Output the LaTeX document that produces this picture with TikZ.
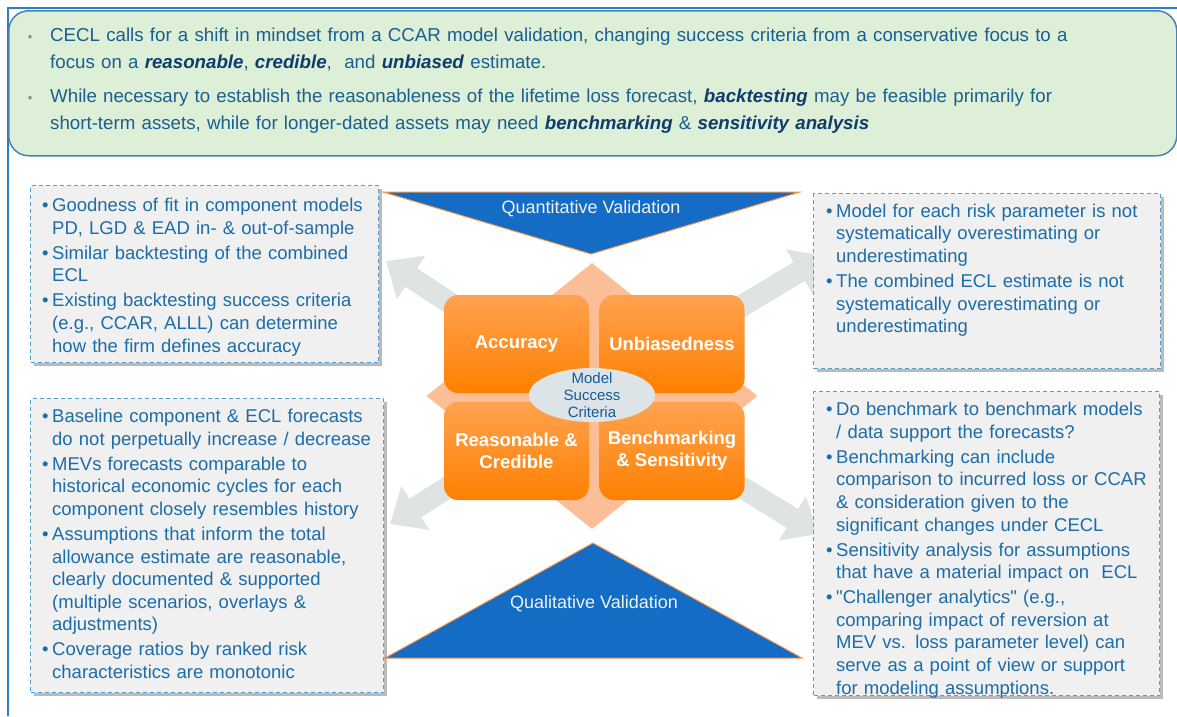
\documentclass[tikz,border=0pt]{standalone}
\usepackage{fontspec}
\setmainfont{Liberation Sans}
\usetikzlibrary{arrows.meta,shapes.geometric,shadows,positioning}

\definecolor{frameblue}{RGB}{41,128,196}
\definecolor{introfill}{RGB}{222,239,215}
\definecolor{introline}{RGB}{70,130,180}
\definecolor{introtxt}{RGB}{25,95,145}
\definecolor{keyblue}{RGB}{15,60,110}
\definecolor{dotgray}{RGB}{140,140,140}
\definecolor{boxfill}{RGB}{240,240,240}
\definecolor{boxdash}{RGB}{80,160,215}
\definecolor{boxtxt}{RGB}{28,108,168}
\definecolor{valblue}{RGB}{20,108,196}
\definecolor{valedge}{RGB}{247,150,70}
\definecolor{peach}{RGB}{252,190,150}
\definecolor{spokegray}{RGB}{222,228,228}
\definecolor{ovalfill}{RGB}{220,228,232}
\definecolor{ovaltxt}{RGB}{20,90,150}
\definecolor{sqtop}{RGB}{255,162,80}
\definecolor{sqbot}{RGB}{255,128,0}

\newcommand\key[1]{\textcolor{keyblue}{\textbf{\textit{#1}}}}
% bullet paragraphs: hanging text through \leftskip
\newcommand\bitem{\par\leftskip=10pt\noindent\hskip-10pt\strut\makebox[10pt][l]{\textbullet}}
\newcommand\dotitem{\par\leftskip=40pt\noindent\hskip-40pt\strut\makebox[40pt][c]{\textcolor{dotgray}{\fontsize{13}{13}\selectfont\textbullet}}}

\tikzset{
  infobox/.style={draw=boxdash, fill=boxfill, line width=1.2pt, dash pattern=on 4pt off 3pt,
    drop shadow={shadow xshift=3pt, shadow yshift=-3pt, fill=black!45, opacity=.6},
    inner sep=0, anchor=north west},
  infotext/.style={text=boxtxt, inner sep=0, anchor=north west, text width=360pt, align=left,
    font=\fontsize{18.5}{22.6}\selectfont\setlength\parskip{2.4pt}},
  square/.style={rounded corners=14pt, top color=sqtop, bottom color=sqbot, draw=none,
    minimum width=145pt, minimum height=98pt, inner sep=0, text=white, align=center,
    font=\bfseries\fontsize{18.5}{22}\selectfont},
  spoke/.style={draw=spokegray, line width=22pt, -{Triangle[width=50pt,length=30pt]}},
  valtri/.style={fill=valblue, draw=valedge, line width=1pt, line join=miter},
  vallabel/.style={text=white!92!valblue, font=\fontsize{18}{20}\selectfont, inner sep=0},
}

\begin{document}
\begin{tikzpicture}[x=1pt,y=-1pt]
  \useasboundingbox (0,0) rectangle (1177,716);

  % frame and intro banner
  \draw[frameblue, line width=1.8pt] (8,716) -- (8,8) -- (1177,8);
  \node[draw=introline, fill=introfill, line width=1.5pt, rounded corners=20pt, anchor=north west,
    minimum width=1168pt, minimum height=145pt, inner sep=0] (intro) at (8,10) {};
  \node[anchor=north west, inner sep=0, text width=1150pt, align=left, text=introtxt,
    font=\fontsize{18.7}{27}\selectfont\setlength\parskip{7pt}] (introText) at (10,7) {%
    \dotitem CECL calls for a shift in mindset from a CCAR model validation, changing success criteria from a conservative focus to a\newline
    focus on a \key{reasonable}, \key{credible}, \ and \key{unbiased} estimate.
    \dotitem While necessary to establish the reasonableness of the lifetime loss forecast, \key{backtesting} may be feasible primarily for\newline
    short-term assets, while for longer-dated assets may need \key{benchmarking} \& \key{sensitivity analysis}\par};

  % spokes from the hub
  \coordinate (hub) at (592,396);
  \coordinate (tipNW) at (386,261);
  \coordinate (tipNE) at (825,256);
  \coordinate (tipSW) at (390,524);
  \coordinate (tipSE) at (818,534);
  \foreach \t in {tipNW,tipNE,tipSW,tipSE}
    \draw[spoke] (hub) -- (\t);

  % validation triangles
  \draw[valtri] (383,192) -- (800,192) -- (591,254) -- cycle;
  \node[vallabel] (quant) at (591,209) {Quantitative Validation};
  \draw[valtri] (593,543) -- (802,658) -- (385,658) -- cycle;
  \node[vallabel] (qual) at (594,604) {Qualitative Validation};

  % success criteria block
  \node[diamond, fill=peach, minimum width=331pt, minimum height=266pt, inner sep=0] (core) at (hub) {};
  \node[square] (acc) at (516.5,344) {Accuracy};
  \node[square] (unb) at (672,344) {Unbiasedness};
  \node[square] (reas) at (516.5,451) {Reasonable \&\\Credible};
  \node[square] (bench) at (672,451) {Benchmarking\\\& Sensitivity};
  \fill[ovalfill] (592,395) ellipse [x radius=63, y radius=27];
  \node[align=center, inner sep=0, text=ovaltxt, font=\fontsize{15}{17}\selectfont] (msc) at (592,395) {Model\\Success\\Criteria};

  % side boxes
  \node[infobox, minimum width=348pt, minimum height=177pt] (accBox) at (30,185) {};
  \node[infotext] (accText) at (42,186.5) {%
    \bitem Goodness of fit in component models\newline PD, LGD \& EAD in- \& out-of-sample
    \bitem Similar backtesting of the combined\newline ECL
    \bitem Existing backtesting success criteria\newline (e.g., CCAR, ALLL) can determine\newline how the firm defines accuracy\par};

  \node[infobox, minimum width=347pt, minimum height=175pt] (unbBox) at (813,193) {};
  \node[infotext] (unbText) at (826,192) {%
    \bitem Model for each risk parameter is not\newline systematically overestimating or\newline underestimating
    \bitem The combined ECL estimate is not\newline systematically overestimating or\newline underestimating\par};

  \node[infobox, minimum width=353pt, minimum height=294pt] (reasBox) at (30,398) {};
  \node[infotext] (reasText) at (42,397.5) {%
    \bitem Baseline component \& ECL forecasts\newline do not perpetually increase / decrease
    \bitem MEVs forecasts comparable to\newline historical economic cycles for each\newline component closely resembles history
    \bitem Assumptions that inform the total\newline allowance estimate are reasonable,\newline clearly documented \& supported\newline (multiple scenarios, overlays \&\newline adjustments)
    \bitem Coverage ratios by ranked risk\newline characteristics are monotonic\par};

  \node[infobox, minimum width=346pt, minimum height=304pt] (benchBox) at (813,391) {};
  \node[infotext] (benchText) at (826,390.5) {%
    \bitem Do benchmark to benchmark models\newline / data support the forecasts?
    \bitem Benchmarking can include\newline comparison to incurred loss or CCAR\newline \& consideration given to the\newline significant changes under CECL
    \bitem Sensitivity analysis for assumptions\newline that have a material impact on \ ECL
    \bitem \textquotedbl Challenger analytics\textquotedbl\ (e.g.,\newline comparing impact of reversion at\newline MEV vs. loss parameter level) can\newline serve as a point of view or support\newline for modeling assumptions.\par};
\end{tikzpicture}
\end{document}
